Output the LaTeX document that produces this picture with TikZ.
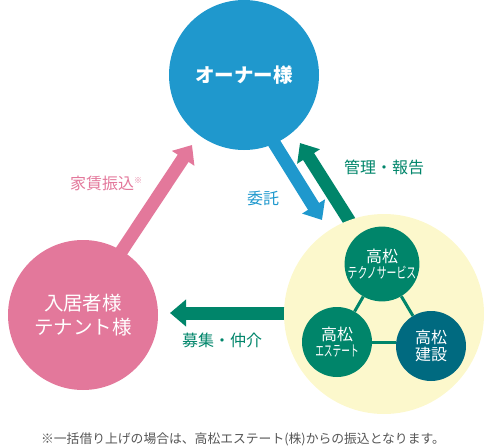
\documentclass[tikz,border=0pt]{standalone}
\usepackage{fontspec}
\setmainfont{Noto Sans CJK JP}
\usetikzlibrary{arrows.meta}
\definecolor{cblue}{HTML}{1F98CD}
\definecolor{cpink}{HTML}{E3789B}
\definecolor{cgreen}{HTML}{00856A}
\definecolor{cteal}{HTML}{006A80}
\definecolor{cyellow}{HTML}{FCF8CC}
\definecolor{cgray}{HTML}{555555}
\begin{document}
\begin{tikzpicture}[x=1pt,y=-1pt,
  fatarrow/.style={line width=13pt,-{Triangle[width=26pt,length=16pt]}},
  bigcircle/.style={circle,inner sep=0pt,minimum size=150pt,text=white,align=center,font=\fontsize{19.5}{24}\selectfont\bfseries},
  smallcircle/.style={circle,inner sep=0pt,minimum size=70pt,text=white,align=center,font=\fontsize{16}{17}\selectfont},
  label/.style={font=\fontsize{16}{18}\selectfont}]
\useasboundingbox (0,0) rectangle (493,447);
% arrow end points
\coordinate (pinkTail) at (109,270);
\coordinate (pinkTip) at (192,145);
\coordinate (blueTail) at (243,93);
\coordinate (blueTip) at (322,220);
\coordinate (greenTail) at (364,244);
\coordinate (greenTip) at (300,143);
\coordinate (horTail) at (330,313);
\coordinate (horTip) at (170,313);
% arrows
\draw[fatarrow,cpink] (pinkTail) -- (pinkTip);
\draw[fatarrow,cblue] (blueTail) -- (blueTip);
\draw[fatarrow,cgreen] (greenTail) -- (greenTip);
\draw[fatarrow,cgreen] (horTail) -- (horTip);
% circles
\node[bigcircle,fill=cblue] (owner) at (244,75) {オーナー様};
\node[bigcircle,fill=cpink,font=\fontsize{19.5}{24}\selectfont\mdseries] (tenant) at (83,315) {入居者様\\テナント様};
\node[circle,fill=cyellow,minimum size=200pt,inner sep=0pt] (group) at (384,314) {};
\node[smallcircle,fill=cgreen] (tec) at (382,264) {高松\\[-1pt]\scalebox{0.66}[1]{\fontsize{15}{16}\selectfont テクノサービス}};
\node[smallcircle,fill=cgreen] (est) at (337,342) {高松\\[-1pt]\scalebox{0.58}[1]{\fontsize{15}{16}\selectfont エステート}};
\node[smallcircle,fill=cteal] (ken) at (431,346) {高松\\建設};
\draw[cgreen,line width=3pt] (tec) -- (est);
\draw[cgreen,line width=3pt] (tec) -- (ken);
\draw[cgreen,line width=3pt] (est.east) -- (ken.west |- est.east);
% labels
\node[label,text=cpink] (lpink) at (106,183) {家賃振込\raisebox{6pt}{\fontsize{8}{9}\selectfont ※}};
\node[label,text=cblue] (lblue) at (263,198) {委託};
\node[label,text=cgreen] (lgreen) at (384,167) {管理・報告};
\node[label,text=cgreen] (lhor) at (222,340) {募集・仲介};
\node[font=\fontsize{12.8}{14}\selectfont,text=cgray] (note) at (243,439) {※一括借り上げの場合は、高松エステート(株)からの振込となります。};
\end{tikzpicture}
\end{document}
